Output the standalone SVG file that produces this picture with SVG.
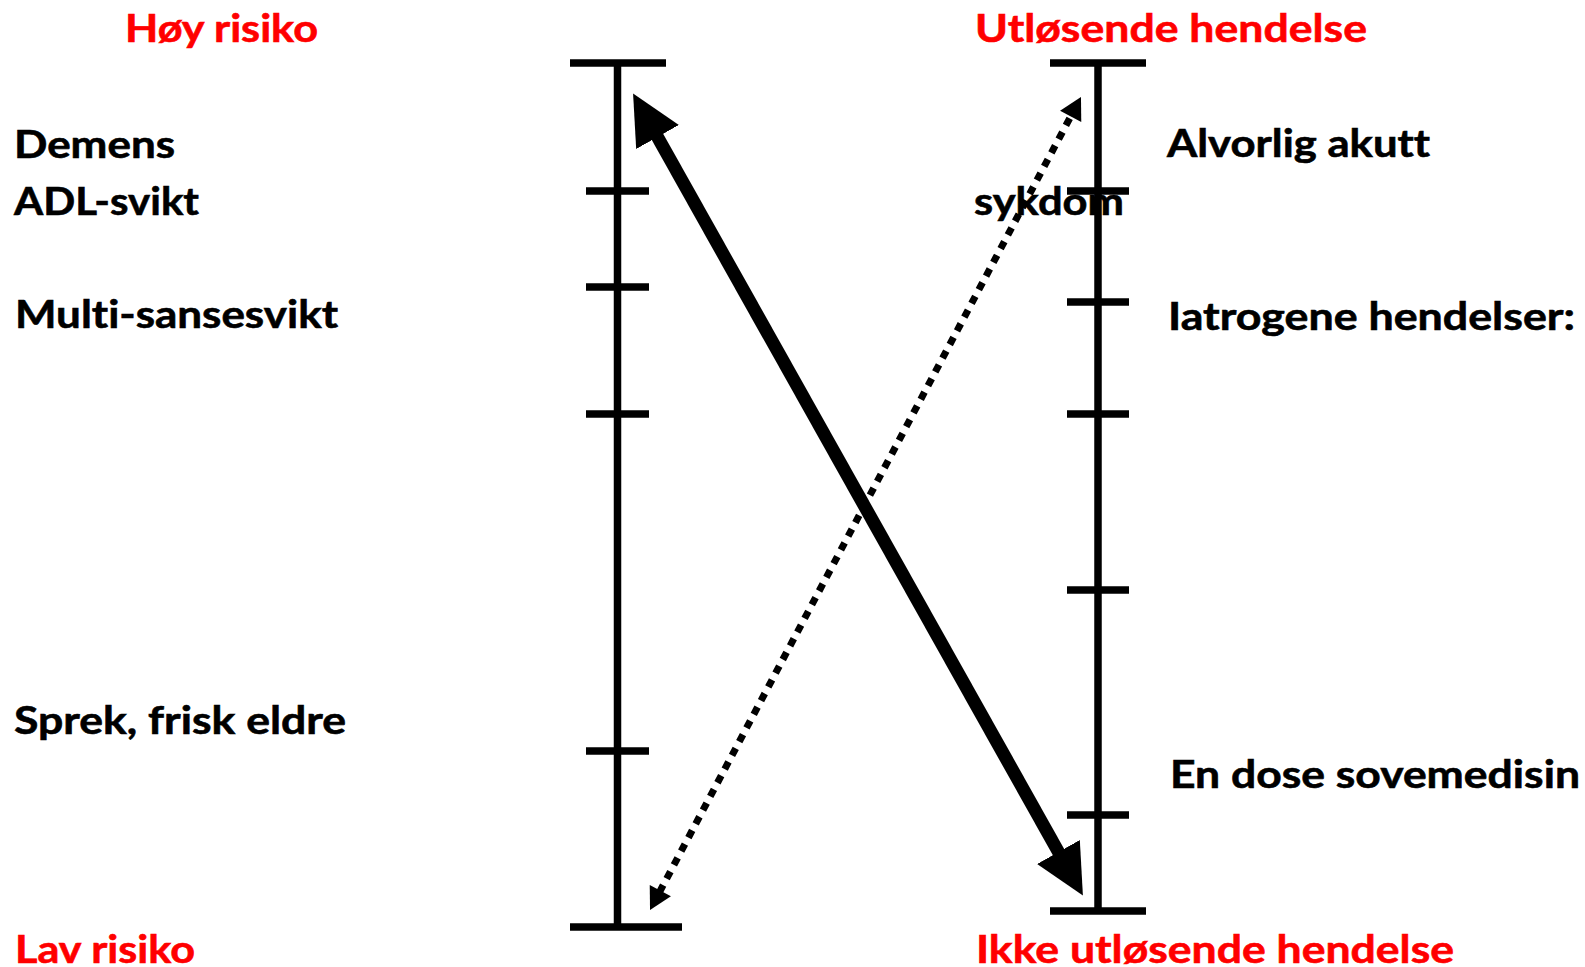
<svg xmlns="http://www.w3.org/2000/svg" width="1585" height="967" viewBox="0 0 1585 967">
<style>
  .t { font-family: Lato, "Open Sans", "Liberation Sans", sans-serif; font-weight: bold; font-size: 39px; fill: #000; font-variant-ligatures: none; stroke: #000; stroke-width: 0.6; }
  .r { fill: #FF0000; stroke: #FF0000; }
  .ax { stroke: #000; stroke-width: 7.5; fill: none; stroke-linecap: butt; }
</style>
<defs>
  <marker id="headSolid" markerUnits="userSpaceOnUse" markerWidth="50" markerHeight="50" viewBox="0 0 48 47" refX="4" refY="23.5" orient="auto-start-reverse">
    <path d="M0,0 L48,23.5 L0,47 z" fill="#000"/>
  </marker>
  <marker id="headDot" markerUnits="userSpaceOnUse" markerWidth="24" markerHeight="24" viewBox="0 0 22 24" refX="2" refY="12" orient="auto-start-reverse">
    <path d="M0,0 L22,12 L0,24 z" fill="#000"/>
  </marker>
</defs>
<rect width="1585" height="967" fill="#fff"/>

<g id="left-axis">
  <line class="ax" x1="617.5" y1="63" x2="617.5" y2="927"/>
  <line class="ax" x1="570" y1="63" x2="666" y2="63"/>
  <line class="ax" x1="586" y1="191" x2="649" y2="191"/>
  <line class="ax" x1="586" y1="287" x2="649" y2="287"/>
  <line class="ax" x1="586" y1="414" x2="649" y2="414"/>
  <line class="ax" x1="586" y1="751" x2="649" y2="751"/>
  <line class="ax" x1="570" y1="927" x2="682" y2="927"/>
</g>

<g id="right-axis">
  <line class="ax" x1="1098" y1="63" x2="1098" y2="911"/>
  <line class="ax" x1="1050" y1="63" x2="1146" y2="63"/>
  <line class="ax" x1="1067" y1="191" x2="1129" y2="191"/>
  <line class="ax" x1="1067" y1="302" x2="1129" y2="302"/>
  <line class="ax" x1="1067" y1="414" x2="1129" y2="414"/>
  <line class="ax" x1="1067" y1="590" x2="1129" y2="590"/>
  <line class="ax" x1="1067" y1="815" x2="1129" y2="815"/>
  <line class="ax" x1="1050" y1="911" x2="1146" y2="911"/>
</g>

<g id="connectors">
  <line x1="655.5" y1="133.4" x2="1060.5" y2="855.6" stroke="#000" stroke-width="13" marker-start="url(#headSolid)" marker-end="url(#headSolid)"/>
  <line x1="659.4" y1="892.3" x2="1071.6" y2="114.7" stroke="#000" stroke-width="7" stroke-dasharray="8 7.5" marker-start="url(#headDot)" marker-end="url(#headDot)"/>
</g>

<g id="label-hoy-risiko"><text class="t r" x="125" y="42" textLength="193" lengthAdjust="spacingAndGlyphs">Høy risiko</text></g>
<g id="label-utlosende"><text class="t r" x="975" y="42" textLength="392" lengthAdjust="spacingAndGlyphs">Utløsende hendelse</text></g>
<g id="label-demens"><text class="t" x="14" y="158" textLength="161" lengthAdjust="spacingAndGlyphs">Demens</text></g>
<g id="label-adl"><text class="t" x="14" y="215" textLength="185" lengthAdjust="spacingAndGlyphs">ADL-svikt</text></g>
<g id="label-multi"><text class="t" x="15" y="328" textLength="323" lengthAdjust="spacingAndGlyphs">Multi-sansesvikt</text></g>
<g id="label-sprek"><text class="t" x="14" y="734" textLength="332" lengthAdjust="spacingAndGlyphs">Sprek, frisk eldre</text></g>
<g id="label-lav-risiko"><text class="t r" x="15" y="963" textLength="180" lengthAdjust="spacingAndGlyphs">Lav risiko</text></g>
<g id="label-alvorlig"><text class="t" x="1167" y="157" textLength="263" lengthAdjust="spacingAndGlyphs">Alvorlig akutt</text></g>
<g id="label-sykdom"><text class="t" x="974" y="215" textLength="150" lengthAdjust="spacingAndGlyphs">sykdom</text></g>
<g id="label-iatrogene"><text class="t" x="1168" y="330" textLength="407" lengthAdjust="spacingAndGlyphs">Iatrogene hendelser:</text></g>
<g id="label-sovemedisin"><text class="t" x="1170" y="788" textLength="410" lengthAdjust="spacingAndGlyphs">En dose sovemedisin</text></g>
<g id="label-ikke-utlosende"><text class="t r" x="976" y="963" textLength="478" lengthAdjust="spacingAndGlyphs">Ikke utløsende hendelse</text></g>
</svg>
